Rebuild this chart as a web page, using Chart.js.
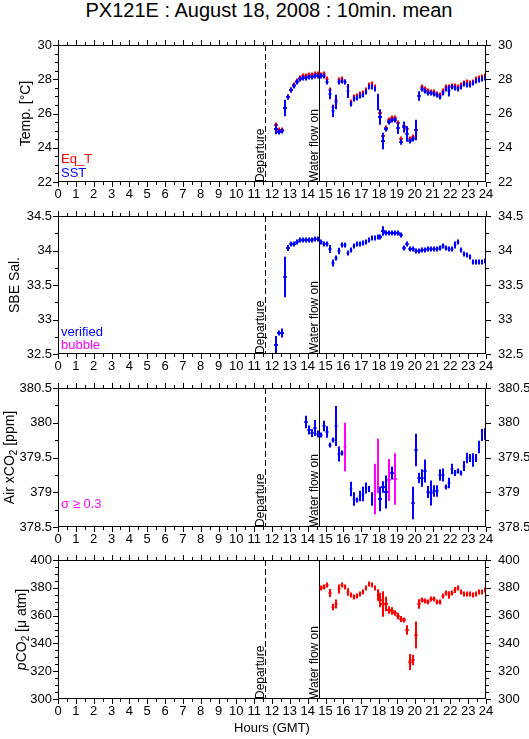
<!DOCTYPE html>
<html>
<head>
<meta charset="utf-8">
<title>PX121E : August 18, 2008</title>
<script src="https://cdn.jsdelivr.net/npm/chart.js@4.4.1/dist/chart.umd.min.js"></script>
<style>
  body { margin: 0; background: #fff; width: 529px; height: 739px; position: relative; overflow: hidden;
         font-family: "Liberation Sans", Arial, Helvetica, sans-serif; }
  #titulo { position: absolute; top: -2px; left: 0; width: 538px; text-align: center;
            font-size: 20px; line-height: 24px; color: #000; }
  canvas { position: absolute; left: 0; }
</style>
</head>
<body>
<div id="titulo">PX121E : August 18, 2008 : 10min. mean</div>
<canvas id="cTemp"></canvas>
<canvas id="cSal"></canvas>
<canvas id="cAir"></canvas>
<canvas id="cPco2"></canvas>

<script>
// ========== Dados ==========

const departureHour = 11.6;
const waterOnHour = 14.65;

// 10 min means (center of each 10 min bin), GMT
const timesUW = ['12:15','12:25','12:35','12:45','12:55',
  '13:05','13:15','13:25','13:35','13:45','13:55',
  '14:05','14:15','14:25','14:35','14:45','14:55',
  '15:05','15:15','15:25','15:35','15:45','15:55',
  '16:05','16:15','16:25','16:35','16:45','16:55',
  '17:05','17:15','17:25','17:35','17:45','17:55',
  '18:05','18:15','18:25','18:35','18:45','18:55',
  '19:05','19:15','19:25','19:35','19:45','19:55',
  '20:05','20:15','20:25','20:35','20:45','20:55',
  '21:05','21:15','21:25','21:35','21:45','21:55',
  '22:05','22:15','22:25','22:35','22:45','22:55',
  '23:05','23:15','23:25','23:35','23:45','23:55'];

const eqT = [25.33, 25.06, 25.06, 26.30, 26.99, 27.38, 27.69, 27.88, 28.06, 28.17,
  28.17, 28.23, 28.25, 28.29, 28.29, 28.27, 28.29, 28.02, 27.36, 26.38,
  26.76, 27.96, 28.00, 27.86, 27.54, 26.70, 26.96, 27.01, 27.13, 27.19,
  27.36, 27.65, 27.71, 27.57, 26.96, 26.03, 24.71, 25.16, 25.60, 25.72,
  25.72, 25.45, 24.52, 25.27, 25.10, 24.52, 24.65, 25.02, 27.05, 27.55,
  27.42, 27.30, 27.28, 27.23, 27.15, 27.07, 27.32, 27.52, 27.55, 27.63,
  27.59, 27.54, 27.67, 27.81, 27.83, 27.79, 27.86, 28.02, 28.08, 28.14,
  28.17];
const eqTErr = [0.08, 0.03, 0.03, 0.10, 0.05, 0.05, 0.03, 0.03, 0.03, 0.03,
  0.03, 0.03, 0.03, 0.03, 0.03, 0.03, 0.03, 0.05, 0.05, 0.05,
  0.05, 0.03, 0.03, 0.03, 0.05, 0.05, 0.03, 0.03, 0.03, 0.03,
  0.03, 0.03, 0.03, 0.03, 0.05, 0.05, 0.05, 0.03, 0.03, 0.03,
  0.03, 0.05, 0.05, 0.03, 0.05, 0.03, 0.03, 0.05, 0.03, 0.03,
  0.03, 0.03, 0.03, 0.03, 0.03, 0.03, 0.03, 0.03, 0.03, 0.03,
  0.03, 0.03, 0.03, 0.03, 0.03, 0.03, 0.03, 0.03, 0.03, 0.03,
  0.03];

const sst = [25.10, 24.90, 24.95, 26.30, 26.95, 27.35, 27.60, 27.83, 28.00, 28.10,
  28.10, 28.12, 28.15, 28.17, 28.20, 28.17, 28.20, 27.83, 27.15, 26.15,
  26.70, 27.83, 27.92, 27.83, 27.32, 26.57, 26.84, 26.90, 27.01, 27.07,
  27.25, 27.55, 27.54, 27.42, 26.65, 25.80, 24.42, 25.12, 25.50, 25.62,
  25.62, 25.15, 24.35, 25.24, 24.80, 24.38, 24.54, 25.04, 27.00, 27.45,
  27.30, 27.22, 27.20, 27.15, 27.07, 26.95, 27.22, 27.42, 27.34, 27.54,
  27.48, 27.44, 27.57, 27.71, 27.69, 27.69, 27.77, 27.92, 27.98, 28.02,
  28.06];
const sstErr = [0.30, 0.05, 0.05, 0.50, 0.10, 0.15, 0.08, 0.05, 0.03, 0.03,
  0.03, 0.03, 0.03, 0.03, 0.03, 0.03, 0.03, 0.15, 0.30, 0.35,
  0.40, 0.10, 0.05, 0.05, 0.40, 0.08, 0.05, 0.05, 0.05, 0.05,
  0.05, 0.08, 0.05, 0.08, 0.50, 0.45, 0.45, 0.10, 0.15, 0.05,
  0.05, 0.35, 0.15, 0.30, 0.45, 0.10, 0.05, 0.60, 0.30, 0.10,
  0.05, 0.05, 0.05, 0.05, 0.05, 0.05, 0.10, 0.05, 0.30, 0.05,
  0.05, 0.05, 0.05, 0.05, 0.05, 0.05, 0.05, 0.05, 0.05, 0.05,
  0.05];

const salinity = [32.63, 32.80, 32.81, 33.62, 34.04, 34.10, 34.10, 34.13, 34.15, 34.15,
  34.15, 34.15, 34.15, 34.16, 34.16, 34.13, 34.09, 34.10, 34.02, 33.82,
  33.89, 34.00, 34.08, 34.08, 33.97, 34.01, 34.06, 34.10, 34.10, 34.11,
  34.13, 34.15, 34.18, 34.18, 34.19, 34.20, 34.28, 34.26, 34.26, 34.26,
  34.26, 34.26, 34.22, 34.03, 34.09, 34.02, 34.02, 34.00, 34.00, 34.01,
  34.01, 34.02, 34.02, 34.02, 34.02, 34.03, 34.07, 34.03, 34.02, 34.02,
  34.08, 34.12, 34.01, 33.95, 33.94, 33.90, 33.84, 33.83, 33.83, 33.83,
  33.85];
const salinityErr = [0.13, 0.04, 0.06, 0.29, 0.04, 0.02, 0.02, 0.02, 0.02, 0.02,
  0.02, 0.02, 0.02, 0.02, 0.02, 0.02, 0.02, 0.02, 0.06, 0.05,
  0.03, 0.04, 0.02, 0.02, 0.03, 0.02, 0.02, 0.02, 0.02, 0.02,
  0.02, 0.02, 0.02, 0.02, 0.02, 0.02, 0.07, 0.02, 0.02, 0.02,
  0.02, 0.02, 0.03, 0.03, 0.02, 0.02, 0.02, 0.02, 0.02, 0.02,
  0.02, 0.02, 0.02, 0.02, 0.02, 0.02, 0.02, 0.02, 0.02, 0.02,
  0.05, 0.03, 0.02, 0.02, 0.02, 0.02, 0.02, 0.02, 0.02, 0.02,
  0.02];

const airTimes = ['13:55','14:05','14:15','14:25','14:35','14:45','14:55',
  '15:05','15:15','15:25','15:35','15:45','15:55','16:05',
  '16:25','16:35','16:45','16:55','17:05','17:15','17:25','17:35','17:45','17:55',
  '18:05','18:15','18:25','18:35','18:45','18:55',
  '19:55','20:05','20:15','20:25','20:35','20:45','20:55',
  '21:05','21:15','21:25','21:35','21:45','21:55',
  '22:05','22:15','22:25','22:35','22:45','22:55',
  '23:05','23:15','23:25','23:35','23:45','23:55'];
const airXco2 = [380.01, 379.89, 379.85, 379.92, 379.84, 379.82, 379.95,
  379.86, 379.68, 379.75, 379.96, 379.55, 379.56, 379.65,
  379.05, 378.90, 378.89, 378.94, 378.98, 379.06, 379.05, 378.91, 379.05, 379.38,
  378.90, 379.08, 379.00, 379.17, 379.27, 379.19,
  378.85, 379.61, 379.21, 379.20, 379.31, 379.00, 378.99,
  379.02, 379.02, 379.25, 379.25, 379.07, 379.14,
  379.34, 379.28, 379.30, 379.27, 379.38, 379.50,
  379.50, 379.47, 379.50, 379.65, 379.83, 379.84];
const airSd = [0.09, 0.07, 0.06, 0.12, 0.05, 0.03, 0.08,
  0.09, 0.02, 0.03, 0.28, 0.11, 0.02, 0.35,
  0.10, 0.10, 0.03, 0.08, 0.10, 0.08, 0.04, 0.09, 0.36, 0.39,
  0.18, 0.08, 0.24, 0.31, 0.10, 0.37,
  0.23, 0.23, 0.07, 0.13, 0.16, 0.09, 0.18,
  0.08, 0.08, 0.08, 0.09, 0.03, 0.07,
  0.07, 0.04, 0.03, 0.03, 0.07, 0.07,
  0.05, 0.09, 0.05, 0.09, 0.08, 0.08];
const sigmaLimit = 0.3;

const pco2Times = timesUW.slice(15); // from 14:45 (after water flow on)
const pco2 = [379.8, 380.5, 381.7, 376.2, 366.3, 368.5, 379.3, 381.7, 380.5, 376.7,
  375.0, 373.1, 374.3, 375.5, 376.7, 379.8, 382.7, 381.7, 379.8, 375.0,
  370.9, 368.5, 368.5, 363.7, 363.5, 361.8, 359.9, 357.7, 356.5, 349.5,
  326.4, 327.9, 345.7, 368.3, 371.4, 370.7, 369.7, 372.1, 371.9, 369.7,
  369.7, 374.3, 376.2, 375.0, 376.2, 378.1, 379.8, 376.9, 375.7, 375.5,
  375.7, 375.0, 375.5, 376.9, 376.9, 378.6];
const pco2Err = [1, 1, 1, 3, 2.2, 3, 3, 1, 1, 3,
  1, 1, 1, 1, 1, 1, 1, 1, 1, 4,
  5.5, 9, 5, 3, 2.5, 2, 2.2, 2, 1, 3.5,
  6, 4, 10, 3.5, 1, 1, 1, 1, 1, 1,
  1, 1, 1, 2.5, 1, 2.5, 1, 1, 1, 1,
  1, 1, 1, 1, 1, 1];

// ========== Helpers ==========

const FONTE = '"Liberation Sans", Arial, Helvetica, sans-serif';
const RED = '#ff0000', BLUE = '#0000ff', MAGENTA = '#ff00ff';
const PAD_TOP = 20, AXIS_H = 40;
const HALF_BIN = 5 / 60;

function horas(t) {
  const [h, m] = t.split(':').map(Number);
  return h + m / 60;
}

function pontos(times, vals) {
  return times.map((t, i) => ({ x: horas(t), y: vals[i] }));
}

function linha(ctx, x1, y1, x2, y2) {
  ctx.beginPath();
  ctx.moveTo(x1, y1);
  ctx.lineTo(x2, y2);
  ctx.stroke();
}

// rotated text (reads bottom to top); parts = [{t, font, dy}]
function textoVertical(ctx, parts, x, y, centrado) {
  let total = 0;
  parts.forEach(p => { ctx.font = p.font; p.w = ctx.measureText(p.t).width; total += p.w; });
  ctx.save();
  ctx.translate(x, y);
  ctx.rotate(-Math.PI / 2);
  ctx.textAlign = 'left';
  ctx.textBaseline = 'alphabetic';
  let pos = centrado ? -total / 2 : 0;
  parts.forEach(p => {
    ctx.font = p.font;
    ctx.fillText(p.t, pos, p.dy || 0);
    pos += p.w;
  });
  ctx.restore();
}

// ========== Plugins ==========

// each 10 min mean = horizontal bar over the bin + vertical error bar
const barrasErro = {
  id: 'barrasErro',
  afterDatasetDraw(chart, args) {
    const ds = chart.data.datasets[args.index];
    if (!ds.errors) return;
    const { ctx, chartArea: a, scales: { x, y } } = chart;
    ctx.save();
    ctx.beginPath();
    ctx.rect(a.left, a.top, a.width, a.height);
    ctx.clip();
    ctx.strokeStyle = ds.borderColor;
    ctx.lineWidth = 2;
    ds.data.forEach((p, i) => {
      const px = Math.round(x.getPixelForValue(p.x));
      const py = Math.round(y.getPixelForValue(p.y));
      const e = Math.max(Math.abs(y.getPixelForValue(p.y + ds.errors[i]) - py), 2.5);
      const h = Math.abs(x.getPixelForValue(p.x + HALF_BIN) - px);
      linha(ctx, px, py - e, px, py + e);
      linha(ctx, px - h, py, px + h, py);
    });
    ctx.restore();
  }
};

const moldura = {
  id: 'moldura',
  beforeDatasetsDraw(chart) {
    const { ctx, chartArea: a, scales: { x } } = chart;
    ctx.save();
    ctx.strokeStyle = '#000';
    ctx.lineWidth = 1;
    const xd = Math.round(x.getPixelForValue(departureHour)) + 0.5;
    ctx.setLineDash([6, 3]);
    linha(ctx, xd, a.top, xd, a.bottom);
    ctx.setLineDash([]);
    const xw = Math.round(x.getPixelForValue(waterOnHour)) + 0.5;
    linha(ctx, xw, a.top, xw, a.bottom);
    ctx.fillStyle = '#000';
    const f = '12px ' + FONTE;
    textoVertical(ctx, [{ t: 'Departure', font: f }], xd - 2, a.bottom, false);
    textoVertical(ctx, [{ t: 'Water flow on', font: f }], xw - 2, a.bottom, false);
    ctx.restore();
  },
  afterDraw(chart, args, opts) {
    const { ctx, chartArea: a, scales: { x, y } } = chart;
    ctx.save();
    ctx.strokeStyle = '#000';
    ctx.lineWidth = 1;
    ctx.strokeRect(a.left + 0.5, a.top + 0.5, a.width - 1, a.height - 1);

    // outward ticks, major + minor
    function marcas(scale, sub, fn) {
      const v = scale.ticks.map(t => t.value);
      v.forEach((val, k) => {
        fn(val, 5);
        if (k < v.length - 1) {
          for (let s = 1; s < sub; s++) fn(val + (v[k + 1] - val) * s / sub, 3);
        }
      });
    }
    marcas(x, 2, (v, len) => {
      const px = Math.round(x.getPixelForValue(v)) + 0.5;
      linha(ctx, px, a.top, px, a.top - len);
      linha(ctx, px, a.bottom, px, a.bottom + len);
    });
    marcas(y, opts.ySub, (v, len) => {
      const py = Math.round(y.getPixelForValue(v)) + 0.5;
      linha(ctx, a.left, py, a.left - len, py);
      linha(ctx, a.right, py, a.right + len, py);
    });

    // y title
    ctx.fillStyle = '#000';
    textoVertical(ctx, opts.yTitle, opts.yTitleX, (a.top + a.bottom) / 2, true);

    // small legend notes
    ctx.font = '13px ' + FONTE;
    ctx.textAlign = 'left';
    ctx.textBaseline = 'alphabetic';
    (opts.notes || []).forEach(n => {
      ctx.fillStyle = n.color;
      ctx.fillText(n.text, a.left + 3, a.bottom + n.dy);
    });
    ctx.restore();
  }
};

// ========== Painéis ==========

Chart.defaults.font.family = FONTE;
Chart.defaults.font.size = 13;
Chart.defaults.color = '#000';

const numero = v => String(+Number(v).toFixed(2));

function criarPainel(id, top, bottom, cfg) {
  const cv = document.getElementById(id);
  const h = bottom - top + PAD_TOP + AXIS_H;
  cv.width = 529;
  cv.height = h;
  cv.style.width = '529px';
  cv.style.height = h + 'px';
  cv.style.top = (top - PAD_TOP) + 'px';

  const yBase = {
    type: 'linear', min: cfg.yMin, max: cfg.yMax,
    grid: { display: false, drawTicks: false },
    border: { display: false }
  };

  return new Chart(cv, {
    type: 'line',
    data: { datasets: cfg.datasets },
    options: {
      animation: false,
      responsive: false,
      devicePixelRatio: 1,
      layout: { padding: { top: PAD_TOP, bottom: 0, left: 0, right: 0 } },
      plugins: {
        legend: { display: false },
        tooltip: { enabled: false },
        moldura: { ySub: cfg.ySub, yTitle: cfg.yTitle, yTitleX: cfg.yTitleX, notes: cfg.notes }
      },
      scales: {
        x: {
          type: 'linear', min: 0, max: 24, position: 'bottom',
          ticks: { stepSize: 1, autoSkip: false, maxRotation: 0, padding: 5 },
          grid: { display: false, drawTicks: false },
          border: { display: false },
          title: cfg.xTitle ? { display: true, text: cfg.xTitle, font: { size: 13 }, padding: { top: 0, bottom: 3 } } : { display: false },
          afterFit: s => { s.height = AXIS_H; }
        },
        y: Object.assign({}, yBase, {
          position: 'left',
          ticks: { stepSize: cfg.yStep, padding: 6, callback: numero },
          afterFit: s => { s.width = 58; }
        }),
        y2: Object.assign({}, yBase, {
          position: 'right',
          ticks: { stepSize: cfg.yStep, padding: 12, callback: numero },
          afterFit: s => { s.width = 43; }
        })
      }
    },
    plugins: [barrasErro, moldura]
  });
}

function serie(times, vals, errs, cor, extra) {
  return Object.assign({
    data: pontos(times, vals),
    errors: errs,
    borderColor: cor,
    borderWidth: 2,
    showLine: false,
    pointRadius: 0,
    fill: false,
    yAxisID: 'y'
  }, extra || {});
}

const tituloFonte = '14px ' + FONTE;
const subFonte = '10px ' + FONTE;

criarPainel('cTemp', 45, 182, {
  yMin: 22, yMax: 30, yStep: 2, ySub: 4, yTitleX: 30,
  yTitle: [{ t: 'Temp. [°C]', font: tituloFonte }],
  notes: [{ text: 'Eq_T', color: RED, dy: -19 }, { text: 'SST', color: BLUE, dy: -5 }],
  datasets: [
    serie(timesUW, sst, sstErr, BLUE, { order: 0 }),
    serie(timesUW, eqT, eqTErr, RED, { order: 1 })
  ]
});

criarPainel('cSal', 216, 354, {
  yMin: 32.5, yMax: 34.5, yStep: 0.5, ySub: 2, yTitleX: 19,
  yTitle: [{ t: 'SBE Sal.', font: tituloFonte }],
  notes: [{ text: 'verified', color: BLUE, dy: -18 }, { text: 'bubble', color: MAGENTA, dy: -5 }],
  datasets: [serie(timesUW, salinity, salinityErr, BLUE)]
});

// air xCO2: split by sigma flag
const airOk = airTimes.map((t, i) => i).filter(i => airSd[i] < sigmaLimit);
const airHigh = airTimes.map((t, i) => i).filter(i => airSd[i] >= sigmaLimit);

criarPainel('cAir', 388, 527, {
  yMin: 378.5, yMax: 380.5, yStep: 0.5, ySub: 2, yTitleX: 14,
  yTitle: [
    { t: 'Air xCO', font: tituloFonte },
    { t: '2', font: subFonte, dy: 3 },
    { t: ' [ppm]', font: tituloFonte }
  ],
  notes: [{ text: 'σ ≥ 0.3', color: MAGENTA, dy: -19 }],
  datasets: [
    serie(airOk.map(i => airTimes[i]), airOk.map(i => airXco2[i]), airOk.map(i => airSd[i]), BLUE),
    serie(airHigh.map(i => airTimes[i]), airHigh.map(i => airXco2[i]), airHigh.map(i => airSd[i]), MAGENTA)
  ]
});

criarPainel('cPco2', 560, 699, {
  yMin: 300, yMax: 400, yStep: 20, ySub: 4, yTitleX: 26,
  xTitle: 'Hours (GMT)',
  yTitle: [
    { t: 'p', font: 'italic 14px ' + FONTE },
    { t: 'CO', font: tituloFonte },
    { t: '2', font: subFonte, dy: 3 },
    { t: ' [μ atm]', font: tituloFonte }
  ],
  datasets: [serie(pco2Times, pco2, pco2Err, RED)]
});
</script>
</body>
</html>
